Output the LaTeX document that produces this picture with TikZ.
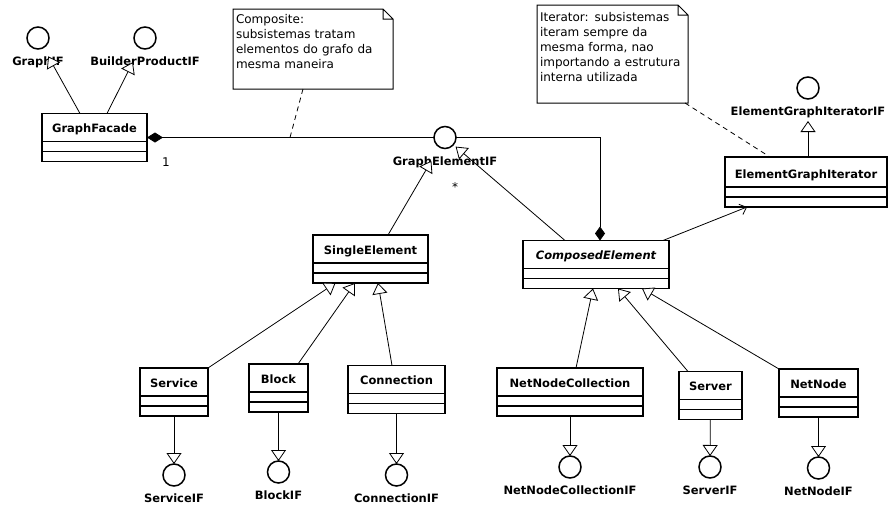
\documentclass[tikz,border=0pt]{standalone}
\usepackage{fontspec}
\setmainfont{DejaVu Sans}
\usetikzlibrary{arrows.meta}

\begin{document}
\begin{tikzpicture}[x=1pt,y=-1pt,
  cls/.style={draw,line width=1.6pt,inner sep=0pt,outer sep=0pt,text height=19pt,text depth=29pt,
    font=\bfseries\fontsize{11.5pt}{14pt}\selectfont,
    path picture={\draw[line width=1.4pt]
      ([yshift=10pt]path picture bounding box.south west) -- ([yshift=10pt]path picture bounding box.south east)
      ([yshift=20pt]path picture bounding box.south west) -- ([yshift=20pt]path picture bounding box.south east);}},
  iface/.style={circle,draw,line width=1.5pt,fill=white,minimum size=22pt,inner sep=0pt,outer sep=0pt},
  every label/.style={font=\bfseries\fontsize{11.5pt}{14pt}\selectfont,inner sep=0pt,yshift=-8pt},
  gen/.style={line width=0.8pt,-{Triangle[length=11pt,width=15pt,fill=white]}},
  note/.style={align=left,inner xsep=3pt,inner ysep=0pt,outer sep=0pt,anchor=north west,
    font=\fontsize{12pt}{15pt}\selectfont},
  mult/.style={font=\fontsize{12pt}{14pt}\selectfont}]
\useasboundingbox (0,0) rectangle (891,506);

\path (233,9) node[note,text width=154pt,minimum height=80pt] (composite)
        {Composite:\\subsistemas tratam\\elementos do grafo da\\mesma maneira\\\mbox{}}
      (537,5) node[note,text width=145pt,minimum height=98pt] (iternote)
        {Iterator: subsistemas\\iteram sempre da\\mesma forma, nao\\importando a estrutura\\interna utilizada\\\mbox{}};
\foreach \n in {composite,iternote}
  \draw[line width=1pt] (\n.north west) -- ([xshift=-10pt]\n.north east) -- ([yshift=-10pt]\n.north east)
    -- (\n.south east) -- (\n.south west) -- cycle
    ([xshift=-10pt]\n.north east) |- ([yshift=-10pt]\n.north east);

\path (94.5,137.5) node[cls,minimum width=105pt] (facade) {GraphFacade}
      (370.5,259) node[cls,minimum width=115pt] (single) {SingleElement}
      (596,264.5) node[cls,minimum width=146pt] (composed) {\itshape ComposedElement}
      (806,182) node[cls,minimum width=162pt,text height=21pt] (iterator) {ElementGraphIterator}
      (174,392) node[cls,minimum width=68pt] (service) {Service}
      (278.5,388) node[cls,minimum width=59pt] (block) {Block}
      (396.5,389.5) node[cls,minimum width=97pt] (connection) {Connection}
      (570,392) node[cls,minimum width=146pt] (netcoll) {NetNodeCollection}
      (710.5,395.5) node[cls,minimum width=63pt] (server) {Server}
      (818.5,393) node[cls,minimum width=79pt] (netnode) {NetNode};

\draw[line width=0.8pt,{Diamond[length=16pt,width=10pt]}-{Diamond[length=14pt,width=10pt]}]
  (facade.east) -| ([xshift=4pt]composed.north);

\path (38,38) node[iface,label=below:GraphIF] (graphif) {}
      (145,38) node[iface,label=below:BuilderProductIF] (builderif) {}
      (445,137.5) node[iface,label=below:GraphElementIF] (geif) {}
      (808,88) node[iface,label=below:ElementGraphIteratorIF] (egiif) {}
      (174,475) node[iface,label=below:ServiceIF] (serviceif) {}
      (278.5,472) node[iface,label=below:BlockIF] (blockif) {}
      (396.5,475) node[iface,label=below:ConnectionIF] (connif) {}
      (570,467) node[iface,label=below:NetNodeCollectionIF] (netcollif) {}
      (710,467) node[iface,label=below:ServerIF] (serverif) {}
      (818.5,468) node[iface,label=below:NetNodeIF] (netnodeif) {};

\path (166,162) node[mult] (one) {1}
      (455,187) node[mult] (many) {*};

\coordinate (notept) at (290,137.5);
\draw[line width=0.8pt,dash pattern=on 5pt off 4pt] ([xshift=-10pt]composite.south) -- (notept);
\draw[line width=0.8pt,dash pattern=on 5pt off 4pt] ([xshift=-3pt]iternote.south east) -- ([xshift=-36pt]iterator.north);

\draw[line width=0.8pt,-{Straight Barb[length=6pt,width=11pt]}] ([xshift=-6pt]composed.north east) -- ([xshift=-59pt]iterator.south);

\draw[gen,shorten >=10pt] ([xshift=-14.5pt]facade.north) -- (graphif);
\draw[gen,shorten >=16pt] ([xshift=12.5pt]facade.north) -- (builderif);
\draw[gen,shorten >=16pt] ([xshift=17.5pt]single.north) -- (geif);
\draw[gen,shorten >=3pt] ([xshift=-31pt]composed.north) -- (geif);
\draw[gen,shorten >=22pt] (iterator.north -| egiif) -- (egiif);
\draw[gen] (service.north east) -- ([xshift=-35pt]single.south);
\draw[gen] ([xshift=19.5pt]block.north) -- ([xshift=-15.5pt]single.south);
\draw[gen] ([xshift=-4.5pt]connection.north) -- ([xshift=7.5pt]single.south);
\draw[gen] ([xshift=6pt]netcoll.north) -- ([xshift=-3pt]composed.south);
\draw[gen] ([xshift=-22.5pt]server.north) -- ([xshift=22pt]composed.south);
\draw[gen] (netnode.north west) -- ([xshift=46pt]composed.south);
\foreach \a/\b in {service/serviceif,block/blockif,connection/connif,netcoll/netcollif,server/serverif,netnode/netnodeif}
  \draw[gen] (\a) -- (\b);
\end{tikzpicture}
\end{document}
